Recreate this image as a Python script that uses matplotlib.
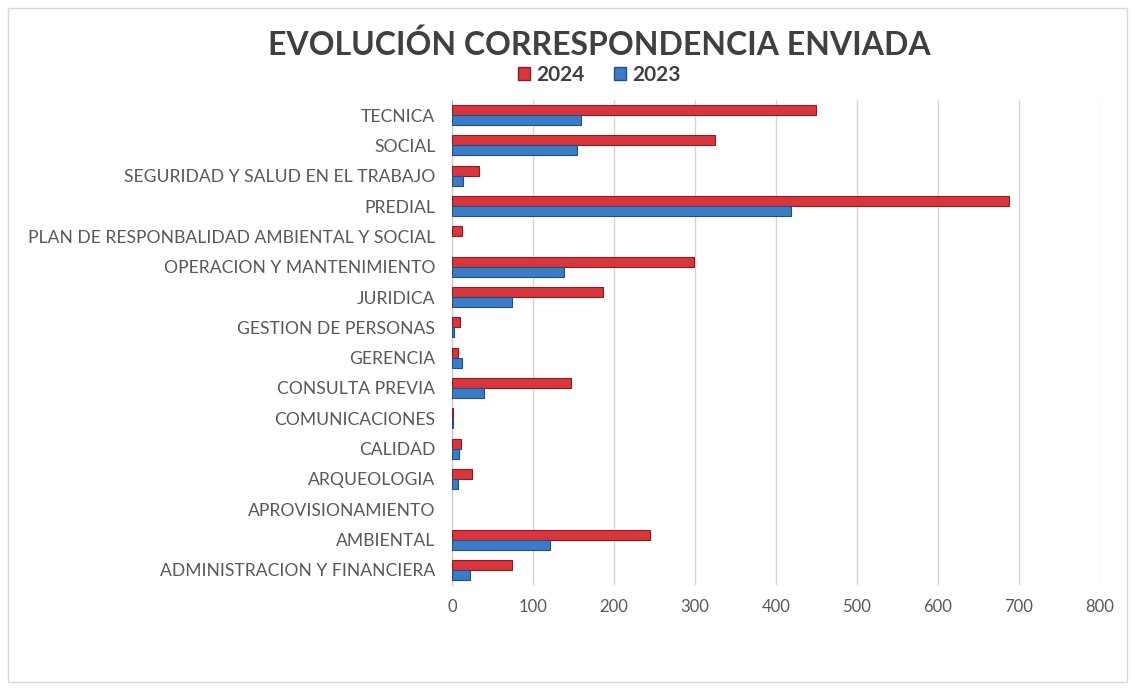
import matplotlib.pyplot as plt
import numpy as np
from matplotlib.patches import Patch

# Datos (de abajo hacia arriba, como en el gráfico)
categorias = [
    "ADMINISTRACION Y FINANCIERA",
    "AMBIENTAL",
    "APROVISIONAMIENTO",
    "ARQUEOLOGIA",
    "CALIDAD",
    "COMUNICACIONES",
    "CONSULTA PREVIA",
    "GERENCIA",
    "GESTION DE PERSONAS",
    "JURIDICA",
    "OPERACION Y MANTENIMIENTO",
    "PLAN DE RESPONBALIDAD AMBIENTAL Y SOCIAL",
    "PREDIAL",
    "SEGURIDAD Y SALUD EN EL TRABAJO",
    "SOCIAL",
    "TECNICA",
]
valores_2024 = [74, 245, 0, 25, 11, 1, 147, 7, 10, 187, 299, 12, 688, 33, 325, 449]
valores_2023 = [22, 121, 0, 7, 9, 1, 40, 12, 2, 74, 138, 0, 418, 14, 154, 159]
ticks_x = [0, 100, 200, 300, 400, 500, 600, 700, 800]

ROJO = "#d8353c"
AZUL = "#3b7cc7"
GRIS = "#595959"

plt.rcParams["font.family"] = ["Lato", "DejaVu Sans"]

fig = plt.figure(figsize=(11.35, 6.9), dpi=100)
ax = fig.add_axes([452 / 1135, 1 - 585 / 690, 648 / 1135, 485 / 690])

y = np.arange(len(categorias))
alto = 0.33
# sin borde en las barras de valor cero
lw24 = [0.8 if v > 0 else 0 for v in valores_2024]
lw23 = [0.8 if v > 0 else 0 for v in valores_2023]
ax.barh(y + alto / 2, valores_2024, height=alto, color=ROJO,
        edgecolor="#8c1c22", linewidth=lw24, zorder=3)
ax.barh(y - alto / 2, valores_2023, height=alto, color=AZUL,
        edgecolor="#1f4f85", linewidth=lw23, zorder=3)

ax.set_xlim(0, 800)
ax.set_ylim(-0.5, len(categorias) - 0.5)
ax.set_xticks(ticks_x)
ax.set_yticks(y)
ax.set_yticklabels(categorias)
ax.tick_params(axis="both", length=0, colors=GRIS)
ax.tick_params(axis="x", pad=10, labelsize=12)
ax.tick_params(axis="y", pad=12, labelsize=12.6)
ax.grid(axis="x", color="#d4d4d4", linewidth=1, zorder=0)
for s in ["top", "right", "bottom"]:
    ax.spines[s].set_visible(False)
ax.spines["left"].set_color("#c8c8c8")

fig.text(0.528, 1 - 45 / 690, "EVOLUCIÓN CORRESPONDENCIA ENVIADA",
         ha="center", va="center", fontsize=23, fontweight="bold", color="#404040")

handles = [Patch(facecolor=ROJO, edgecolor="#8c1c22", label="2024"),
           Patch(facecolor=AZUL, edgecolor="#1f4f85", label="2023")]
fig.legend(handles=handles, loc="center", bbox_to_anchor=(0.528, 1 - 75 / 690),
           ncol=2, frameon=False, handlelength=0.6, handleheight=0.6,
           handletextpad=0.3, columnspacing=1.4, labelcolor="#404040",
           prop={"weight": "bold", "size": 15})

# marco del gráfico
fig.patches.append(plt.Rectangle((8 / 1135, 8 / 690), 1 - 16 / 1135, 1 - 16 / 690,
                                 transform=fig.transFigure, fill=False,
                                 edgecolor="#d9d9d9", linewidth=1))

fig.savefig("out.png", dpi=100)
